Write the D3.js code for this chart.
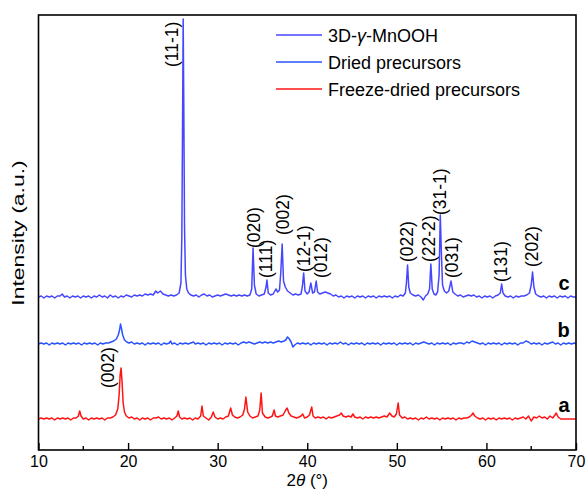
<!DOCTYPE html>
<html>
<head>
<meta charset="utf-8">
<script src="https://cdn.jsdelivr.net/npm/d3@7"></script>
<style>
  body { margin: 0; background: #fff; }
  text { font-family: "Liberation Sans", Arial, sans-serif; fill: #000; }
</style>
</head>
<body>
<svg></svg>
<script>
let width = 587, height = 498;
let margin = {left: 38.5, right: 11, top: 15, bottom: 48};

// XRD traces, intensity (a.u.) above each trace's own baseline
const traceC = [
[10,0],[10.3,1],[10.6,-1],[10.9,1],[11.2,0],[11.5,1],[11.8,-1],[12.1,1],[12.4,1],[12.65,3],[12.9,0],[13.2,1],[13.5,-1],[13.8,1],[14.1,0],[14.4,1],[14.7,-1],[15,1],[15.3,0],[15.6,1],[15.9,-1],[16.2,1],[16.5,0],[16.8,2],[17.1,0],[17.4,1],[17.7,-1],[18,2],[18.3,0],[18.6,1],[18.9,-1],[19.2,1],[19.5,0],[19.8,2],[20.1,1],[20.4,0],[20.7,2],[21,1],[21.3,2],[21.6,1],[21.9,3],[22.2,2],[22.5,3],[22.8,2],[23.1,6],[23.3,4],[23.6,6],[23.9,3],[24.2,2],[24.5,1],[24.8,2],[25.1,1],[25.4,2],[25.7,4],[25.9,14],[26.0,60],[26.1,200],[26.15,278],[26.22,190],[26.3,70],[26.4,22],[26.55,8],[26.75,4],[27,2],[27.3,1],[27.6,2],[27.9,0],[28.2,2],[28.5,3],[28.8,1],[29.1,2],[29.4,0],[29.7,1],[30,2],[30.3,1],[30.6,2],[30.9,3],[31.2,2],[31.5,1],[31.8,2],[32.1,1],[32.4,2],[32.7,1],[33,2],[33.3,1],[33.6,2],[33.8,8],[33.95,49],[34.1,12],[34.3,3],[34.6,1],[34.9,2],[35.2,3],[35.4,10],[35.5,17],[35.65,4],[35.9,2],[36.2,3],[36.5,8],[36.7,5],[36.9,7],[37.05,25],[37.2,53],[37.35,16],[37.55,10],[37.8,6],[38.1,4],[38.4,2],[38.7,3],[39,2],[39.3,3],[39.45,10],[39.6,24],[39.75,6],[40,3],[40.2,5],[40.4,14],[40.6,4],[40.8,5],[41,16],[41.15,5],[41.4,3],[41.7,4],[42,5],[42.3,4],[42.6,3],[42.9,1],[43.2,2],[43.5,0],[43.8,1],[44.1,-1],[44.4,1],[44.7,0],[45,1],[45.3,-1],[45.6,1],[45.9,0],[46.2,1],[46.5,-1],[46.8,1],[47.1,0],[47.4,1],[47.7,-1],[48,1],[48.3,0],[48.6,1],[48.9,0],[49.2,1],[49.5,-1],[49.8,1],[50.1,0],[50.4,2],[50.7,1],[50.95,4],[51.07,14],[51.2,32],[51.33,10],[51.5,4],[51.8,2],[52.1,1],[52.4,2],[52.7,0],[52.95,-3],[53.2,1],[53.45,3],[53.65,8],[53.8,33],[53.95,8],[54.15,3],[54.35,2],[54.55,5],[54.72,22],[54.85,82],[54.97,45],[55.1,12],[55.3,6],[55.55,4],[55.8,6],[56.05,16],[56.25,5],[56.5,3],[56.8,1],[57.1,2],[57.4,0],[57.7,1],[58,2],[58.3,1],[58.6,2],[58.9,0],[59.2,1],[59.5,-1],[59.8,1],[60.1,0],[60.4,1],[60.7,-1],[61,1],[61.3,2],[61.55,4],[61.7,13],[61.85,4],[62.1,1],[62.4,0],[62.7,1],[63,-1],[63.3,1],[63.6,0],[63.9,1],[64.2,1],[64.5,2],[64.8,4],[65,12],[65.15,25],[65.3,10],[65.5,3],[65.8,1],[66.1,0],[66.4,1],[66.7,-1],[67,1],[67.3,0],[67.6,1],[67.9,-1],[68.2,1],[68.5,0],[68.8,1],[69.1,-1],[69.4,1],[69.7,0],[70,0]
];
const traceB = [
[10,0],[10.3,1],[10.6,0],[10.9,1],[11.2,-1],[11.5,1],[11.8,0],[12.1,1],[12.4,0],[12.7,1],[13,-1],[13.3,1],[13.6,0],[13.9,1],[14.2,0],[14.5,1],[14.8,-1],[15.1,1],[15.4,0],[15.7,1],[16,0],[16.3,1],[16.6,-1],[16.9,1],[17.2,0],[17.5,1],[17.8,1],[18.1,2],[18.4,3],[18.7,5],[18.9,9],[19.05,14],[19.15,20],[19.25,16],[19.4,9],[19.6,4],[19.85,2],[20.1,1],[20.4,2],[20.7,0],[21,1],[21.3,0],[21.6,1],[21.9,-1],[22.2,1],[22.5,0],[22.8,1],[23.1,0],[23.4,1],[23.7,-1],[24,1],[24.3,0],[24.6,1],[24.75,3],[24.9,0],[25.2,1],[25.5,-1],[25.8,1],[26.1,0],[26.4,1],[26.7,0],[27,1],[27.3,2],[27.5,0],[27.8,1],[28.1,0],[28.4,1],[28.7,-1],[29,1],[29.3,0],[29.6,1],[29.9,0],[30.2,1],[30.5,-1],[30.8,1],[31.1,0],[31.4,1],[31.7,0],[32,1],[32.3,-1],[32.6,1],[32.9,2],[33.2,1],[33.5,2],[33.8,1],[34.1,0],[34.4,1],[34.7,2],[35,1],[35.3,2],[35.6,1],[35.9,2],[36.2,1],[36.5,2],[36.8,3],[37.1,2],[37.4,3],[37.6,4],[37.8,7],[38,5],[38.2,2],[38.4,-3],[38.6,-1],[38.9,1],[39.2,0],[39.5,1],[39.8,0],[40.1,1],[40.4,-1],[40.7,1],[41,0],[41.3,1],[41.6,0],[41.9,1],[42.2,-1],[42.5,1],[42.8,0],[43.1,1],[43.4,0],[43.7,2],[44,0],[44.3,1],[44.6,-1],[44.9,1],[45.2,0],[45.5,1],[45.8,0],[46.1,1],[46.4,-1],[46.7,1],[47,0],[47.3,1],[47.6,0],[47.9,1],[48.2,-1],[48.5,1],[48.8,0],[49.1,1],[49.4,0],[49.7,1],[50,-1],[50.3,1],[50.6,0],[50.9,1],[51.2,0],[51.5,1],[51.8,-1],[52.1,1],[52.4,0],[52.7,1],[53,2],[53.3,1],[53.6,0],[53.9,1],[54.2,-1],[54.5,1],[54.8,0],[55.1,1],[55.4,0],[55.7,1],[56,-1],[56.3,1],[56.6,0],[56.9,1],[57.2,1],[57.5,0],[57.8,2],[58.1,1],[58.4,3],[58.7,2],[59,1],[59.3,0],[59.6,1],[59.9,-1],[60.2,1],[60.5,0],[60.8,1],[61.1,0],[61.4,1],[61.7,-1],[62,1],[62.3,0],[62.6,1],[62.9,0],[63.2,1],[63.5,-1],[63.8,1],[64.1,1],[64.4,3],[64.7,2],[65,0],[65.3,1],[65.6,0],[65.9,1],[66.2,-1],[66.5,1],[66.8,0],[67.1,1],[67.4,2],[67.7,0],[68,1],[68.3,-1],[68.6,1],[68.9,0],[69.2,1],[69.5,0],[69.8,1],[70,0]
];
const traceA = [
[10,0],[10.3,1],[10.6,0],[10.9,1],[11.2,0],[11.5,1],[11.8,-1],[12.1,1],[12.4,0],[12.7,1],[13,0],[13.3,1],[13.6,-1],[13.9,1],[14.2,1],[14.45,3],[14.6,8],[14.75,3],[15,0],[15.3,1],[15.6,-1],[15.9,1],[16.2,0],[16.5,1],[16.8,0],[17.1,1],[17.4,-1],[17.7,1],[18,1],[18.3,2],[18.6,4],[18.85,10],[19.0,24],[19.12,45],[19.22,51],[19.32,38],[19.45,16],[19.6,7],[19.8,3],[20.1,1],[20.4,2],[20.7,0],[21,1],[21.3,-1],[21.6,1],[21.9,0],[22.2,1],[22.5,-1],[22.8,1],[23.1,1],[23.4,2],[23.7,0],[24,1],[24.3,0],[24.6,1],[24.9,-1],[25.2,1],[25.45,3],[25.6,8],[25.75,2],[26,0],[26.3,1],[26.6,0],[26.9,1],[27.2,-1],[27.5,1],[27.8,0],[28.1,3],[28.25,13],[28.4,3],[28.7,1],[29,-1],[29.3,2],[29.5,7],[29.7,2],[30,0],[30.3,1],[30.6,0],[30.9,2],[31.2,3],[31.45,11],[31.65,4],[31.9,2],[32.2,1],[32.5,2],[32.8,4],[33.0,10],[33.15,22],[33.35,7],[33.6,3],[33.9,1],[34.2,2],[34.5,3],[34.7,9],[34.85,26],[35.0,6],[35.3,2],[35.6,1],[35.9,2],[36.1,3],[36.3,9],[36.45,3],[36.7,2],[37,3],[37.3,4],[37.6,9],[37.75,11],[37.95,6],[38.2,3],[38.5,2],[38.8,1],[39.1,2],[39.3,3],[39.5,5],[39.7,1],[40,2],[40.25,4],[40.5,12],[40.65,3],[40.9,1],[41.2,2],[41.5,1],[41.8,2],[42.1,0],[42.4,2],[42.7,1],[43,2],[43.3,3],[43.6,4],[43.8,6],[44,3],[44.3,2],[44.6,3],[44.9,2],[45.1,5],[45.3,2],[45.6,1],[45.9,2],[46.2,0],[46.5,2],[46.8,1],[47.1,2],[47.4,1],[47.7,2],[48,1],[48.3,2],[48.6,3],[48.9,2],[49.2,6],[49.45,3],[49.7,2],[49.95,5],[50.15,16],[50.3,4],[50.6,1],[50.9,2],[51.2,0],[51.5,1],[51.8,0],[52.1,1],[52.4,-1],[52.7,1],[53,0],[53.3,2],[53.6,0],[53.9,1],[54.2,0],[54.5,1],[54.8,-1],[55.1,1],[55.4,0],[55.7,1],[56,0],[56.3,1],[56.6,-1],[56.9,1],[57.2,0],[57.5,1],[57.8,1],[58.1,2],[58.35,4],[58.5,6],[58.7,3],[59,1],[59.3,0],[59.6,1],[59.9,-1],[60.2,1],[60.5,0],[60.8,1],[61.1,-1],[61.4,1],[61.7,0],[62,1],[62.3,0],[62.6,1],[62.9,-1],[63.2,1],[63.5,0],[63.8,1],[64.1,2],[64.4,0],[64.7,3],[65,-2],[65.3,2],[65.6,1],[65.9,3],[66.2,1],[66.5,2],[66.8,0],[67.1,3],[67.4,1],[67.65,4],[67.8,6],[68,2],[68.3,0],[68.6,0],[68.9,0],[69.2,0],[69.5,0],[69.8,0],[70,0]
];

const seriesNames = ["3D-γ-MnOOH", "Dried precursors", "Freeze-dried precursors"];
const seriesTags = ["c", "b", "a"];
const seriesOffsets = [153, 106, 31];   // vertical stacking (a.u.)
const seriesColors = ["#4646ff", "#2a52ff", "#ff1414"];
const traces = [traceC, traceB, traceA];

// peak labels: hkl, 2θ of label centre, level of label start (a.u.)
const peakHkl   = ["(11-1)","(020)","(111)","(002)","(12-1)","(012)","(022)","(22-2)","(31-1)","(031)","(131)","(202)","(002)"];
const peakTheta = [24.95, 34.06, 35.4, 37.29, 39.64, 41.54, 51.13, 53.59, 54.82, 56.16, 61.63, 65.09, 17.76];
const peakLevel = [383, 202, 172, 215, 178, 172, 188, 188, 235, 172, 168, 183, 62];

const xTicks = [10, 20, 30, 40, 50, 60, 70];

let svg = d3.select("svg").attr("width", width).attr("height", height);

let x = d3.scaleLinear().domain([10, 70]).range([margin.left, width - margin.right]);
let y = d3.scaleLinear().domain([0, 435]).range([height - margin.bottom, margin.top]);

let line = d3.line().x(d => x(d[0])).y(d => y(d[1]));

//traces
traces.forEach(function(t, i){
  svg.append("path")
    .datum(t.map(d => [d[0], d[1] + seriesOffsets[i]]))
    .attr("d", line)
    .attr("fill", "none")
    .attr("stroke", seriesColors[i])
    .attr("stroke-width", 1.5)
    .attr("stroke-linejoin", "round");
});

//frame
svg.append("rect")
  .attr("x", x(10)).attr("y", y(435))
  .attr("width", x(70) - x(10)).attr("height", y(0) - y(435))
  .attr("fill", "none").attr("stroke", "#000").attr("stroke-width", 1.6);

//bottom axis, ticks pointing inward
let xAxis = svg.append("g")
  .attr("transform", "translate(0," + y(0) + ")")
  .call(d3.axisBottom(x).tickValues(xTicks).tickSize(-7).tickPadding(6).tickFormat(d3.format("d")));
xAxis.select(".domain").remove();
xAxis.selectAll("line").attr("stroke-width", 1.4);
xAxis.selectAll("text").attr("font-size", 16).attr("font-family", "Liberation Sans, Arial, sans-serif");

svg.append("g").selectAll("line")
  .data([15, 25, 35, 45, 55, 65])
  .enter().append("line")
  .attr("x1", d => x(d)).attr("x2", d => x(d))
  .attr("y1", y(0)).attr("y2", y(0) - 4)
  .attr("stroke", "#000").attr("stroke-width", 1.4);

//axis titles
let xt = svg.append("text")
  .attr("x", x(40)).attr("y", 486)
  .attr("text-anchor", "middle").attr("font-size", 17);
xt.append("tspan").text("2");
xt.append("tspan").attr("font-style", "italic").text("θ");
xt.append("tspan").text(" (°)");

// the original title is drawn wide, so stretch it along its direction
svg.append("text")
  .attr("transform", "translate(24,233) rotate(-90) scale(1.35,1)")
  .attr("text-anchor", "middle")
  .attr("font-size", 17)
  .text("Intensity (a.u.)");

//peak labels
svg.append("g").selectAll("text")
  .data(peakHkl)
  .enter().append("text")
  .attr("transform", (d, i) => "translate(" + x(peakTheta[i]) + "," + y(peakLevel[i]) + ") rotate(-90)")
  .attr("dominant-baseline", "central")
  .attr("font-size", 17.5)
  .text(d => d);

//series tags
svg.append("g").selectAll("text")
  .data(seriesTags)
  .enter().append("text")
  .attr("x", x(69.3))
  .attr("y", (d, i) => y(seriesOffsets[i] + 7))
  .attr("text-anchor", "end")
  .attr("font-size", 20)
  .attr("font-weight", "bold")
  .text(d => d);

//legend
let legend = svg.append("g").selectAll("g")
  .data(seriesNames)
  .enter().append("g")
  .attr("transform", (d, i) => "translate(276," + (35 + i * 27) + ")");
legend.append("line")
  .attr("x1", 0).attr("x2", 46)
  .attr("stroke", (d, i) => seriesColors[i]).attr("stroke-width", 1.6);
legend.append("text")
  .attr("x", 52).attr("y", 6.5)
  .attr("font-size", 18)
  .each(function(d){
    let t = d3.select(this);
    if (d.indexOf("γ") >= 0) {
      let parts = d.split("γ");
      t.append("tspan").text(parts[0]);
      t.append("tspan").attr("font-style", "italic").text("γ");
      t.append("tspan").text(parts[1]);
    } else {
      t.text(d);
    }
  });
</script>
</body>
</html>
